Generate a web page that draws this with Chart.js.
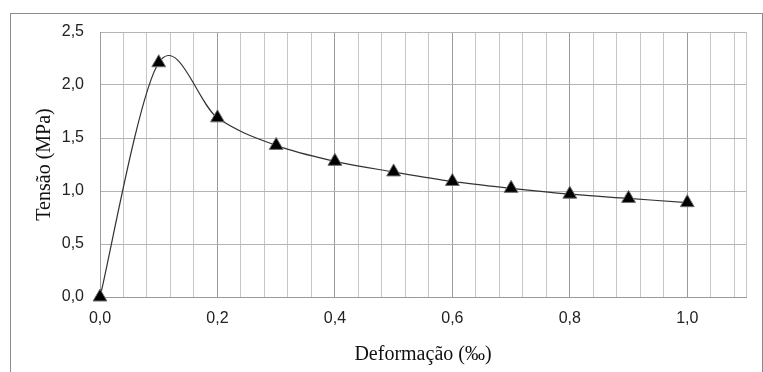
<!DOCTYPE html>
<html>
<head>
<meta charset="utf-8">
<script src="https://cdn.jsdelivr.net/npm/chart.js@4"></script>
<style>
  html, body { margin: 0; padding: 0; background: #fff; overflow: hidden; }
  #frame { position: absolute; left: 10px; top: 13px; width: 751px; height: 420px;
           border: 1px solid #8c8c8c; border-bottom: none; }
  #chart { position: absolute; left: 0; top: 0; }
</style>
</head>
<body>
<div id="frame"></div>
<canvas id="chart" width="763" height="372"></canvas>
<script>
// Tensão x deformação
const deformacao = [0.0, 0.1, 0.2, 0.3, 0.4, 0.5, 0.6, 0.7, 0.8, 0.9, 1.0];
const tensao     = [0.0, 2.21, 1.69, 1.43, 1.28, 1.18, 1.09, 1.025, 0.97, 0.93, 0.89];

// eixos
const xMin = 0, xMax = 1.1, xGridStep = 0.04, xLabelStep = 0.2;
const yMin = 0, yMax = 2.5, yStep = 0.5;

const fmt = v => v.toFixed(1).replace('.', ',');
const isLabelTick = v => Math.abs(v / xLabelStep - Math.round(v / xLabelStep)) < 1e-6;

// suavização tipo Excel (Catmull-Rom) sobre os pontos já posicionados pelas escalas
const excelSmooth = {
    id: 'excelSmooth',
    beforeDatasetsDraw(chart) {
        const meta = chart.getDatasetMeta(0);
        const pts = meta.data;
        const k = 1 / 6;
        pts.forEach((p, i) => {
            const prev = pts[i - 1] || p, next = pts[i + 1] || p;
            const dx = (next.x - prev.x) * k, dy = (next.y - prev.y) * k;
            p.cp1x = p.x - dx; p.cp1y = p.y - dy;
            p.cp2x = p.x + dx; p.cp2y = p.y + dy;
        });
        meta.dataset._pointsUpdated = true;
        meta.dataset._path = undefined;
    }
};

new Chart(document.getElementById('chart'), {
    type: 'line',
    data: {
        datasets: [{
            data: deformacao.map((x, i) => ({ x: x, y: tensao[i] })),
            borderColor: '#333',
            borderWidth: 1.2,
            tension: 0.0001,
            capBezierPoints: false,
            clip: false,
            fill: false,
            pointStyle: 'triangle',
            pointRadius: 8,
            pointBackgroundColor: '#000',
            pointBorderColor: '#6e6e6e',
            pointBorderWidth: 1
        }]
    },
    options: {
        responsive: false,
        animation: false,
        layout: { padding: { left: 0, top: 32, right: 17, bottom: 0 } },
        plugins: { legend: { display: false }, tooltip: { enabled: false } },
        scales: {
            x: {
                type: 'linear',
                min: xMin, max: xMax,
                afterBuildTicks: axis => {
                    const t = [];
                    for (let v = xMin; v < xMax - 1e-6; v += xGridStep) t.push({ value: +v.toFixed(2) });
                    t.push({ value: xMax });
                    axis.ticks = t;
                },
                afterFit: axis => { axis.height = 75; },
                grid: {
                    drawTicks: false,
                    color: ctx => isLabelTick(ctx.tick.value) ? '#9a9a9a' : '#c6c6c6',
                    lineWidth: 1
                },
                border: { color: '#9a9a9a' },
                ticks: {
                    autoSkip: false,
                    maxRotation: 0,
                    padding: 12,
                    color: '#222',
                    font: { family: '"Liberation Sans", Arial, sans-serif', size: 16 },
                    callback: v => isLabelTick(v) && v < xMax ? fmt(v) : ''
                },
                title: {
                    display: true,
                    text: 'Deformação (‰)',
                    color: '#111',
                    font: { family: '"Liberation Serif", "Times New Roman", serif', size: 20 },
                    padding: { top: 0, bottom: 5 }
                }
            },
            y: {
                min: yMin, max: yMax,
                afterFit: axis => { axis.width = 100; },
                grid: { drawTicks: false, color: '#b4b4b4' },
                border: { color: '#9a9a9a' },
                ticks: {
                    stepSize: yStep,
                    padding: 16,
                    color: '#222',
                    font: { family: '"Liberation Sans", Arial, sans-serif', size: 16 },
                    callback: v => fmt(v)
                },
                title: {
                    display: true,
                    text: 'Tensão (MPa)',
                    color: '#111',
                    font: { family: '"Liberation Serif", "Times New Roman", serif', size: 20 },
                    padding: { top: 33, bottom: 0 }
                }
            }
        }
    },
    plugins: [excelSmooth]
});
</script>
</body>
</html>
